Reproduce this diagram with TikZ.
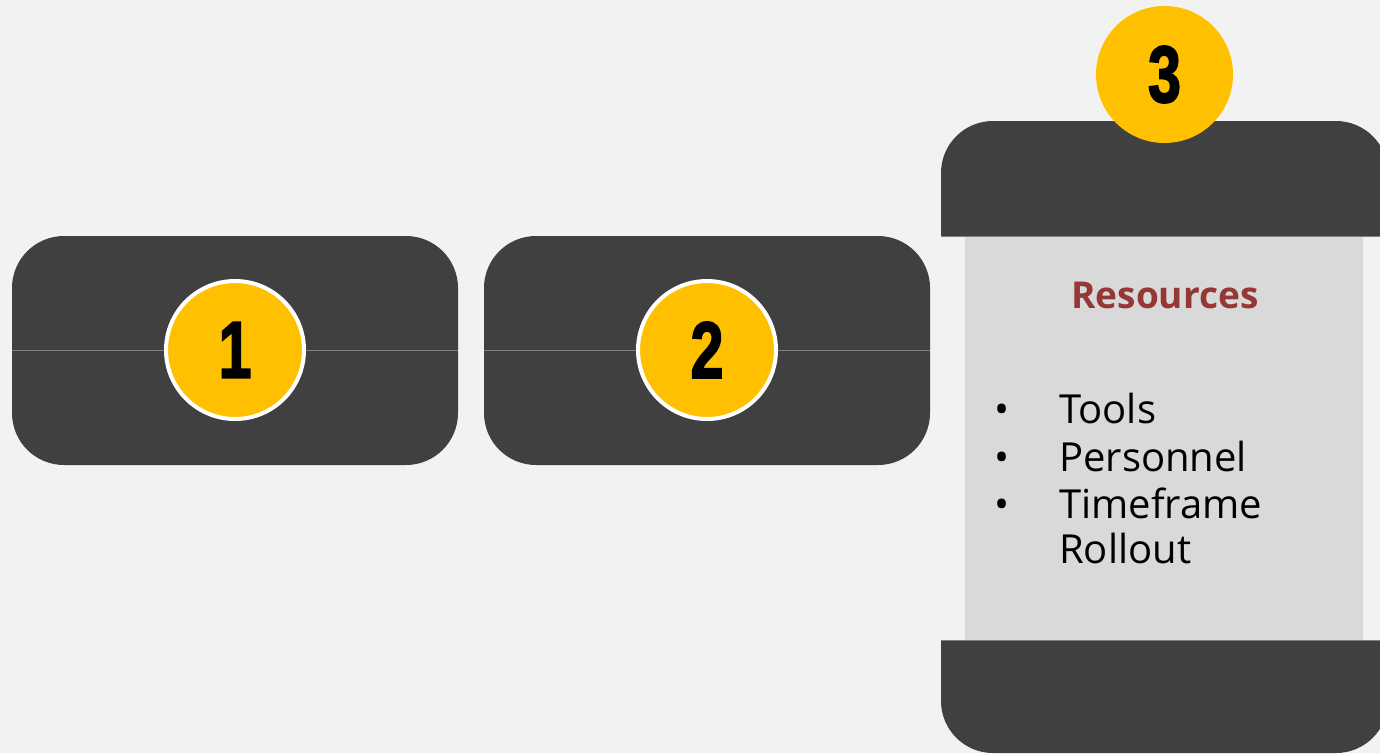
\documentclass[tikz,border=0pt]{standalone}
\usepackage{fontspec}
\setmainfont{Open Sans}
\newfontfamily\numfont{Liberation Sans}[FakeBold=2.5]
\usetikzlibrary{calc}
\definecolor{bgc}{HTML}{F2F2F2}
\definecolor{darkc}{HTML}{404040}
\definecolor{linec}{HTML}{7F7F7F}
\definecolor{yel}{HTML}{FFC000}
\definecolor{panelc}{HTML}{D9D9D9}
\definecolor{redc}{HTML}{953735}
\begin{document}
\begin{tikzpicture}[x=1pt,y=-1pt,
  stagebox/.style={fill=darkc, rounded corners=52pt, minimum width=446pt, minimum height=229pt, inner sep=0pt, draw=none},
  numcirc/.style={circle, fill=yel, draw=white, line width=4pt, minimum size=138pt, inner sep=0pt},
  numtext/.style={font=\numfont\bfseries\fontsize{80}{80}\selectfont, text=black, inner sep=0pt},
  itemtext/.style={font=\fontsize{40}{47}\selectfont, text=black, inner sep=0pt, anchor=base west},
  bullettext/.style={font=\fontsize{40}{47}\selectfont, text=black, inner sep=0pt, anchor=base}]
\useasboundingbox (0,0) rectangle (1380,753);
\fill[bgc] (0,0) rectangle (1380,753);
% stage boxes 1 and 2
\node[stagebox] (b1) at (235,350.5) {};
\node[stagebox] (b2) at (707,350.5) {};
\draw[linec, line width=0.8pt] (b1.west) -- (b1.east);
\draw[linec, line width=0.8pt] (b2.west) -- (b2.east);
% stage 3
\begin{scope}
\clip (0,0) rectangle (1380,236);
\fill[darkc, rounded corners=52pt] (941,121) rectangle (1388,320);
\end{scope}
\begin{scope}
\clip (0,640) rectangle (1380,753);
\fill[darkc, rounded corners=52pt] (941,560) rectangle (1388,753);
\end{scope}
\fill[panelc] (965,236) rectangle (1363,640);
\coordinate (t3l) at (941,236);
\coordinate (t3r) at (1380,236);
\coordinate (b3l) at (941,640);
\coordinate (b3r) at (1380,640);
\draw[linec, line width=0.8pt] (t3l) -- (t3r);
\draw[linec, line width=0.8pt] (b3l) -- (b3r);
% number circles
\node[numcirc] (c1) at (235,350) {};
\node[numcirc] (c2) at (707,350) {};
\node[numcirc, draw=none, minimum size=137pt] (c3) at (1164.5,74.5) {};
\node[numtext] (n1) at (c1.center) {\scalebox{0.74}[1]{1}};
\node[numtext] (n2) at (c2.center) {\scalebox{0.74}[1]{2}};
\node[numtext] (n3) at (c3.center) {\scalebox{0.74}[1]{3}};
% texts
\node[font=\bfseries\fontsize{37}{42}\selectfont, text=redc, inner sep=0pt, anchor=base] (res) at (1165,308) {Resources};
\node[bullettext] (u1) at (1002,423) {•};
\node[bullettext] (u2) at (1002,471) {•};
\node[bullettext] (u3) at (1002,518) {•};
\node[itemtext] (i1) at (1059,423) {Tools};
\node[itemtext] (i2) at (1059,471) {Personnel};
\node[itemtext] (i3) at (1059,518) {Timeframe};
\node[itemtext] (i4) at (1059,563) {Rollout};
\end{tikzpicture}
\end{document}
